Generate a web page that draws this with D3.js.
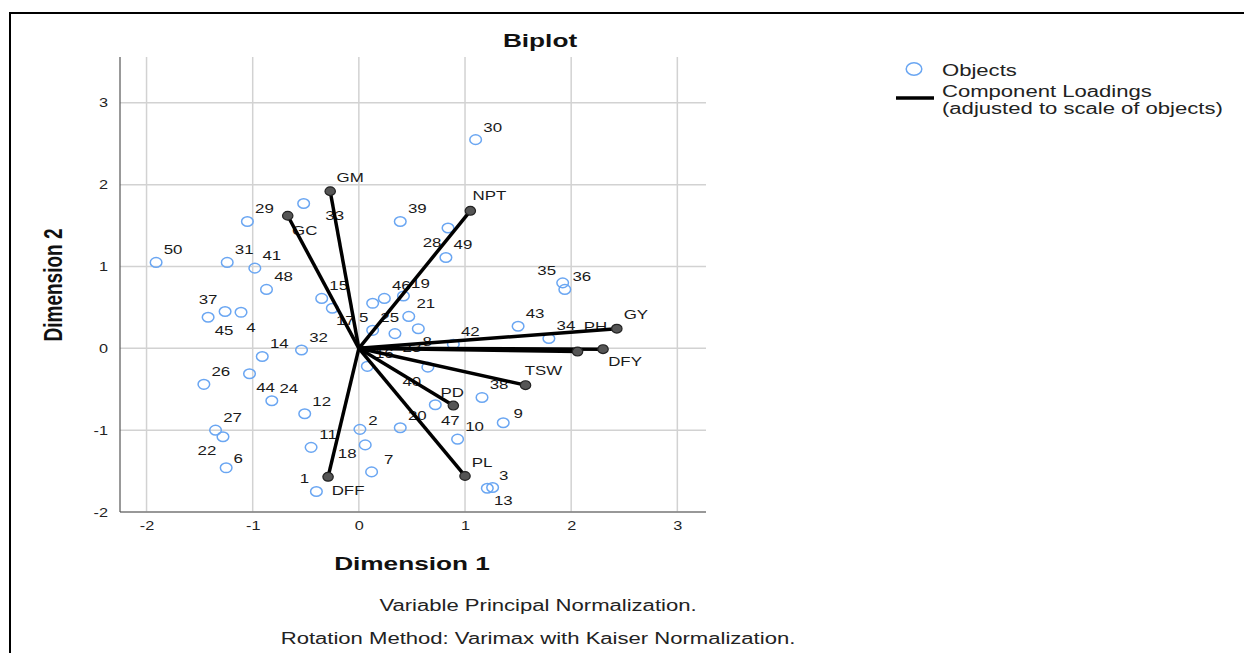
<!DOCTYPE html>
<html>
<head>
<meta charset="utf-8">
<script src="https://cdn.jsdelivr.net/npm/d3@7"></script>
<style>
  html, body { margin: 0; padding: 0; background: #fff; }
  svg { display: block; font-family: "Liberation Sans", Arial, sans-serif; }
</style>
</head>
<body>
<svg id="chart" width="1244" height="653"></svg>
<script>
// ---- data ----
const objectIds = [1,2,3,4,5,6,7,8,9,10,11,12,13,14,15,16,17,18,19,20,21,22,23,24,25,26,27,28,29,30,31,32,33,34,35,36,37,38,39,40,41,42,43,44,45,46,47,48,49,50];
const objectDim1 = [-0.40,0.01,1.26,-1.11,0.13,-1.25,0.12,0.56,1.36,0.93,-0.45,-0.51,1.21,-0.91,-0.35,0.08,-0.25,0.06,0.42,0.39,0.47,-1.28,0.34,-0.82,0.13,-1.46,-1.35,0.84,-1.05,1.10,-1.24,-0.54,-0.52,1.79,1.92,1.94,-1.42,1.16,0.39,0.65,-0.98,0.89,1.50,-1.03,-1.26,0.24,0.72,-0.87,0.82,-1.91];
const objectDim2 = [-1.75,-0.99,-1.70,0.44,0.55,-1.46,-1.51,0.24,-0.91,-1.11,-1.21,-0.80,-1.71,-0.10,0.61,-0.22,0.49,-1.18,0.64,-0.97,0.39,-1.08,0.18,-0.64,0.22,-0.44,-1.00,1.47,1.55,2.55,1.05,-0.02,1.77,0.12,0.80,0.72,0.38,-0.60,1.55,-0.23,0.98,0.05,0.27,-0.31,0.45,0.61,-0.69,0.72,1.11,1.05];

const loadingNames = ["GM","GC","NPT","GY","PH","DFY","TSW","PD","PL","DFF"];
const loadingDim1 = [-0.27,-0.67,1.05,2.43,2.06,2.30,1.57,0.89,1.00,-0.29];
const loadingDim2 = [1.92,1.62,1.68,0.24,-0.04,-0.01,-0.45,-0.70,-1.56,-1.57];

const xTicks = [-2,-1,0,1,2,3];
const yTicks = [-2,-1,0,1,2,3];

// label layout nudges (pixel offsets from mark, text centre)
const defaultNudge = [17,-13];
const objectNudge = {1:[-12,-13],2:[13,-9],3:[11,-12],4:[10,15],5:[-9,14],6:[12,-10],8:[9,12],9:[15,-10],13:[16,12],17:[13,12],18:[-18,8],22:[-16,13],23:[17,14],28:[-16,14],33:[31,12],35:[-16,-13],37:[0,-18],40:[-16,14],44:[16,13],45:[-1,19],47:[15,15]};
const loadingNudge = {GM:[20,-14],GC:[17,14],NPT:[19,-16],GY:[19,-15],PH:[18,-25],DFY:[22,12],TSW:[18,-15],PD:[-1,-13],PL:[17,-14],DFF:[20,13]};

// ---- layout ----
const svg = d3.select("#chart");
const pLeft = 120, pRight = 706, pTop = 57, pBottom = 512;
const x = d3.scaleLinear().domain([-2.25, 3.27]).range([pLeft, pRight]);
const y = d3.scaleLinear().domain([-2, 3.56]).range([pBottom, pTop]);
const LBL_STRETCH = 1.25, TXT_STRETCH = 1.38;

// stretched text helper (the reference renders text horizontally widened)
function sText(g, tx, ty, str, size, opts = {}) {
  const t = g.append("text")
    .attr("transform", `translate(${tx},${ty}) scale(${opts.sx || TXT_STRETCH},1)` + (opts.rot ? ` rotate(${opts.rot})` : ""))
    .attr("text-anchor", opts.anchor || "middle")
    .attr("font-size", size).attr("fill", opts.fill || "#1a1a1a")
    .text(str);
  if (opts.bold) t.attr("font-weight", "bold");
  if (opts.central) t.attr("dominant-baseline", "central");
  return t;
}

// outer frame
svg.append("rect").attr("x",10).attr("y",13).attr("width",1300).attr("height",700)
  .attr("fill","none").attr("stroke","#000").attr("stroke-width",2);

// grid
const grid = svg.append("g");
grid.selectAll(".vg").data(xTicks).join("line").attr("class","vg")
  .attr("x1",d=>x(d)).attr("x2",d=>x(d)).attr("y1",pTop).attr("y2",pBottom)
  .attr("stroke","#d2d2d2").attr("stroke-width",1.5);
grid.selectAll(".hg").data(yTicks).join("line").attr("class","hg")
  .attr("x1",pLeft).attr("x2",pRight).attr("y1",d=>y(d)).attr("y2",d=>y(d))
  .attr("stroke","#d2d2d2").attr("stroke-width",1.5);

// axes
const fmt = d => String(d);
const xAxis = svg.append("g").attr("transform",`translate(0,${pBottom})`)
  .call(d3.axisBottom(x).tickValues(xTicks).tickSize(0).tickPadding(9).tickFormat(fmt));
const yAxis = svg.append("g").attr("transform",`translate(${pLeft},0)`)
  .call(d3.axisLeft(y).tickValues(yTicks).tickSize(0).tickPadding(12).tickFormat(fmt));
[xAxis,yAxis].forEach(a=>{
  a.select(".domain").attr("stroke","#555").attr("stroke-width",1.2);
  a.selectAll("text").attr("font-size",13).attr("fill","#222")
    .attr("font-family","Liberation Sans, Arial, sans-serif")
    .attr("transform",`scale(${LBL_STRETCH},1)`);
});
yAxis.selectAll("text").attr("x", -12 / LBL_STRETCH);
xAxis.select(".domain").attr("d",`M${pLeft},0H${pRight}`);
yAxis.select(".domain").attr("d",`M0,${pTop}V${pBottom}`);

// object points
const objects = objectIds.map((id,i)=>({id, d1:objectDim1[i], d2:objectDim2[i]}));
svg.append("g").selectAll("ellipse").data(objects).join("ellipse")
  .attr("cx",d=>x(d.d1)).attr("cy",d=>y(d.d2)).attr("rx",5.8).attr("ry",4.8)
  .attr("fill","none").attr("stroke","#6aa6f2").attr("stroke-width",1.5);

const objLbl = svg.append("g");
objects.forEach(d=>{
  const n = objectNudge[d.id] || defaultNudge;
  sText(objLbl, x(d.d1)+n[0], y(d.d2)+n[1], d.id, 13.5, {sx: LBL_STRETCH, central: true});
});

// loadings labels
const loadings = loadingNames.map((n,i)=>({n, d1:loadingDim1[i], d2:loadingDim2[i]}));
const ldLbl = svg.append("g");
loadings.forEach(d=>{
  const n = loadingNudge[d.n];
  sText(ldLbl, x(d.d1)+n[0], y(d.d2)+n[1], d.n, 13.5, {sx: LBL_STRETCH, central: true});
});

// loading vectors
svg.append("g").selectAll("line").data(loadings).join("line")
  .attr("x1",x(0)).attr("y1",y(0)).attr("x2",d=>x(d.d1)).attr("y2",d=>y(d.d2))
  .attr("stroke","#000").attr("stroke-width",3.5);
svg.append("g").selectAll("ellipse").data(loadings).join("ellipse")
  .attr("cx",d=>x(d.d1)).attr("cy",d=>y(d.d2)).attr("rx",5.2).attr("ry",4.4)
  .attr("fill","#555").attr("stroke","#222").attr("stroke-width",1.2);

// titles
sText(svg, 540, 47, "Biplot", 19, {bold: true, fill: "#111"});
sText(svg, 412, 570, "Dimension 1", 19, {bold: true, fill: "#111"});
sText(svg, 62, 285, "Dimension 2", 19, {bold: true, fill: "#111", rot: -90});

sText(svg, 538, 611, "Variable Principal Normalization.", 16, {fill: "#222"});
sText(svg, 538, 644, "Rotation Method: Varimax with Kaiser Normalization.", 16, {fill: "#222"});

// legend
const lg = svg.append("g");
lg.append("ellipse").attr("cx",914).attr("cy",69).attr("rx",7.8).attr("ry",6.2)
  .attr("fill","none").attr("stroke","#6aa6f2").attr("stroke-width",1.5);
sText(lg, 942, 76, "Objects", 16, {anchor: "start", fill: "#222"});
lg.append("line").attr("x1",896).attr("x2",934).attr("y1",98).attr("y2",98)
  .attr("stroke","#000").attr("stroke-width",3.5);
sText(lg, 942, 97, "Component Loadings", 16, {anchor: "start", fill: "#222"});
sText(lg, 942, 114, "(adjusted to scale of objects)", 16, {anchor: "start", fill: "#222"});
</script>
</body>
</html>
